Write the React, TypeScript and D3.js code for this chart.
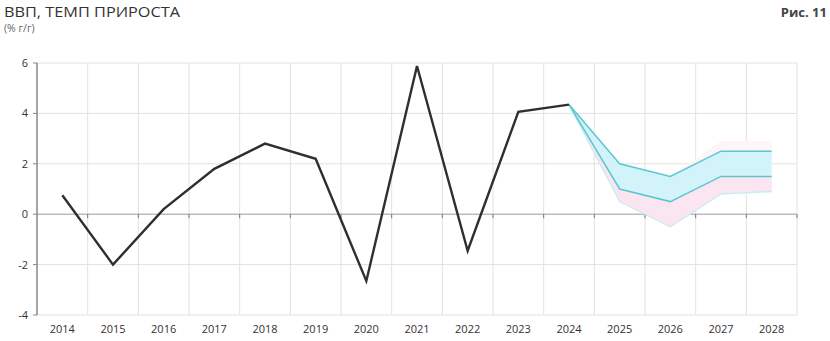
import React from "react";
import * as d3 from "d3";

const years = ["2014","2015","2016","2017","2018","2019","2020","2021","2022","2023","2024","2025","2026","2027","2028"];
const actual = [0.75, -2.0, 0.2, 1.8, 2.8, 2.2, -2.65, 5.88, -1.45, 4.06, 4.35];
const forecastYears = ["2024","2025","2026","2027","2028"];
const upperBand = [4.35, 2.0, 1.5, 2.5, 2.5];
const lowerBand = [4.35, 1.0, 0.5, 1.5, 1.5];
const outerLow = [4.35, 0.5, -0.5, 0.8, 0.9];
const outerHigh = [4.35, 2.0, 1.5, 2.9, 2.9];
const yTicks = [-4, -2, 0, 2, 4, 6];

const W = 830, H = 341;
const left = 37, right = 797, top = 63, bottom = 315;

export default function App() {
  const x = d3.scaleBand<string>().domain(years).range([left, right]).padding(0);
  const cx = (yr: string) => (x(yr) as number) + x.bandwidth() / 2;
  const y = d3.scaleLinear().domain([-4, 6]).range([bottom, top]);

  const line = d3.line<[string, number]>().x(d => cx(d[0])).y(d => y(d[1]));
  const area = d3.area<[string, number, number]>().x(d => cx(d[0])).y0(d => y(d[1])).y1(d => y(d[2]));

  const actualPts: [string, number][] = actual.map((v, i) => [years[i], v]);
  const upperPts: [string, number][] = forecastYears.map((yr, i) => [yr, upperBand[i]]);
  const lowerPts: [string, number][] = forecastYears.map((yr, i) => [yr, lowerBand[i]]);
  const outerLowPts: [string, number][] = forecastYears.map((yr, i) => [yr, outerLow[i]]);
  const pinkLow: [string, number, number][] = forecastYears.map((yr, i) => [yr, outerLow[i], lowerBand[i]]);
  const pinkHigh: [string, number, number][] = forecastYears.map((yr, i) => [yr, upperBand[i], outerHigh[i]]);
  const cyanArea: [string, number, number][] = forecastYears.map((yr, i) => [yr, lowerBand[i], upperBand[i]]);

  const font = "'Open Sans', sans-serif";
  const boundaries = years.map(yr => (x(yr) as number) + x.bandwidth());

  return (
    <svg width={W} height={H} style={{ position: "absolute", left: 0, top: 0, background: "#fff" }}>
      <text x={4} y={16.5} fontFamily={font} fontSize={14.5} fill="#333" textLength={176} lengthAdjust="spacingAndGlyphs">ВВП, ТЕМП ПРИРОСТА</text>
      <text x={4} y={32} fontFamily={font} fontSize={10.5} fill="#666">(% г/г)</text>
      <text x={827} y={17} fontFamily={font} fontSize={13} fontWeight={700} fill="#444" textAnchor="end">Рис. 11</text>

      {yTicks.filter(t => t !== 0).map(t => (
        <line key={"hg" + t} x1={left} x2={right} y1={y(t)} y2={y(t)} stroke="#e2e2e2" strokeWidth={1} />
      ))}
      {boundaries.map((bx, i) => (
        <line key={"vg" + i} x1={bx} x2={bx} y1={top} y2={bottom} stroke="#e2e2e2" strokeWidth={1} />
      ))}
      <line x1={left} x2={right} y1={y(0)} y2={y(0)} stroke="#9a9a9a" strokeWidth={1} />
      {boundaries.map((bx, i) => (
        <line key={"xt" + i} x1={bx} x2={bx} y1={y(0)} y2={y(0) + 4} stroke="#777" strokeWidth={1} />
      ))}
      <line x1={left} x2={left} y1={top} y2={bottom} stroke="#888" strokeWidth={1.5} />
      {yTicks.map(t => (
        <g key={"yt" + t}>
          <line x1={left - 4} x2={left} y1={y(t)} y2={y(t)} stroke="#888" strokeWidth={1} />
          <text x={28} y={y(t) + 4} fontFamily={font} fontSize={11} fill="#333" textAnchor="end">{t}</text>
        </g>
      ))}
      {years.map(yr => (
        <text key={"xl" + yr} x={cx(yr)} y={333} fontFamily={font} fontSize={11} fill="#333" textAnchor="middle">{yr}</text>
      ))}

      <path d={area(pinkLow) || ""} fill="#fbe5f0" />
      <path d={area(pinkHigh) || ""} fill="#fef5f8" />
      <path d={area(cyanArea) || ""} fill="#d3f3fa" />
      <path d={line(outerLowPts) || ""} fill="none" stroke="#c6ecef" strokeWidth={1.3} />
      <path d={line(upperPts) || ""} fill="none" stroke="#5cc7cf" strokeWidth={1.5} />
      <path d={line(lowerPts) || ""} fill="none" stroke="#5cc7cf" strokeWidth={1.5} />
      <path d={line(actualPts) || ""} fill="none" stroke="#2f2f2f" strokeWidth={2.4} strokeLinejoin="miter" />
    </svg>
  );
}
